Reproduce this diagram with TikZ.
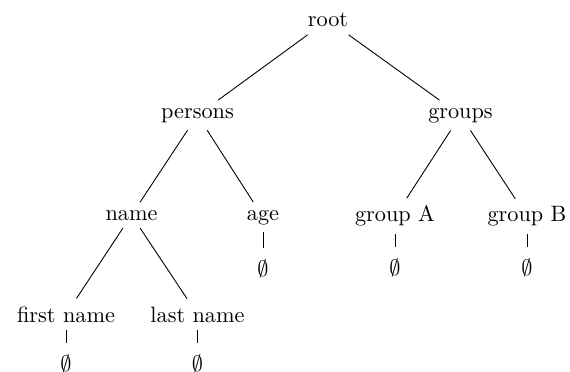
\documentclass[tikz,border=0pt]{standalone}
\usepackage{amsfonts,amsmath}
\usepackage{tikz}

\begin{document}
\begin{tikzpicture}[x=0.0158cm, y=-0.0158cm,
        lbl/.style={anchor=base},
        nullline/.style={shorten >=1.5pt}]
        \useasboundingbox (0, 0) rectangle (570, 372);

        \node[lbl] (root) at (328, 26.7) {root};

        \node[lbl] (persons) at (197.5, 118) {persons};
        \node[lbl] (groups) at (460.5, 118) {groups};

        \node[lbl] (name) at (131.5, 220) {name};
        \node[lbl] (age) at (263, 220) {age};
        \node[lbl] (groupA) at (395, 222) {group A};
        \node[lbl] (groupB) at (527, 222) {group B};

        \node[lbl] (first) at (66, 322) {first name};
        \node[lbl] (last) at (197.5, 322) {last name};

        \node[lbl] (ageNull) at (263, 276) {$\emptyset$};
        \node[lbl] (groupANull) at (395, 275) {$\emptyset$};
        \node[lbl] (groupBNull) at (527, 275) {$\emptyset$};
        \node[lbl] (firstNull) at (66, 371) {$\emptyset$};
        \node[lbl] (lastNull) at (197.5, 371) {$\emptyset$};

        \draw (root) -- (persons);
        \draw (root) -- (groups);
        \draw (persons) -- (name);
        \draw (persons) -- (age);
        \draw (groups) -- (groupA);
        \draw (groups) -- (groupB);
        \draw (name) -- (first);
        \draw (name) -- (last);

        \draw[nullline] (age) -- (ageNull);
        \draw[nullline] (groupA) -- (groupANull);
        \draw[nullline] (groupB) -- (groupBNull);
        \draw[nullline] (first) -- (firstNull);
        \draw[nullline] (last) -- (lastNull);
    \end{tikzpicture}
\end{document}
